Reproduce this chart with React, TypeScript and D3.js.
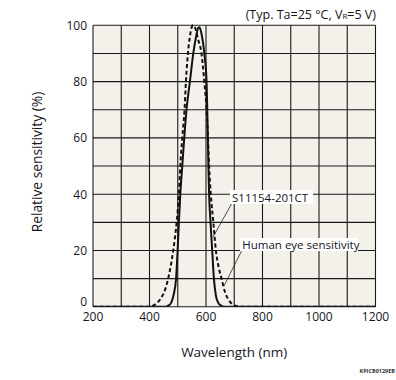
import React from "react";
import * as d3 from "d3";

const xTicks = [200, 400, 600, 800, 1000, 1200];
const yTicks = [0, 20, 40, 60, 80, 100];
const xGrid = [200, 300, 400, 500, 600, 700, 800, 900, 1000, 1100, 1200];
const yGrid = [0, 10, 20, 30, 40, 50, 60, 70, 80, 90, 100];

const sensorWl = [200, 455, 468, 477, 486, 494, 499.5, 504, 509, 516, 523, 531, 543, 555, 565, 572, 577, 584, 594, 602, 604.5, 606.5, 608.5, 611, 616, 622, 628, 635, 643, 652, 665, 1200];
const sensorVal = [0, 0, 0.5, 1.5, 4.5, 10, 20, 30, 40, 50, 60, 70, 80, 90, 96, 99, 99.3, 97, 90, 80, 70, 60, 50, 40, 30, 20, 10, 4, 1.5, 0.5, 0, 0];

const eyeWl = [200, 395, 410, 425, 440, 455, 466, 476, 484, 496, 504, 509, 516, 524, 529, 536, 543, 550, 555, 562, 572, 584, 594, 602, 607, 611, 617, 626, 635, 645, 655, 668, 680, 695, 710, 725, 1200];
const eyeVal = [0, 0, 0.3, 1.2, 3, 6, 10, 15, 20, 30, 40, 50, 60, 70, 80, 90, 96, 99.5, 100, 99, 95, 90, 80, 70, 60, 50, 40, 30, 20, 14, 10, 5, 2.5, 0.8, 0.2, 0, 0];

const FONT = "'Open Sans', 'Noto Sans', sans-serif";
const TXT = "#15151c";

export default function App() {
  const W = 396, H = 380;
  const L = 93, R = 375.5, T = 25.3, B = 306.8;
  const x = d3.scaleLinear().domain([200, 1200]).range([L, R]);
  const y = d3.scaleLinear().domain([0, 100]).range([B, T]);
  const line = d3.line<number>().curve(d3.curveMonotoneX);
  const sensorPath = line(sensorWl.map((w, i) => [x(w), y(sensorVal[i])]) as any) || "";
  const eyePath = line(eyeWl.map((w, i) => [x(w), y(eyeVal[i])]) as any) || "";

  return (
    <svg width={W} height={H} style={{ position: "absolute", left: 0, top: 0, background: "#fff" }}>
      <defs>
        <clipPath id="plot">
          <rect x={L} y={T - 3} width={R - L} height={B - T + 3} />
        </clipPath>
      </defs>
      <rect x={L} y={T} width={R - L} height={B - T} fill="#f3f1ea" />
      {xGrid.map((g) => (
        <line key={"xg" + g} x1={x(g)} x2={x(g)} y1={T} y2={B} stroke="#1a1a1a" strokeWidth={1.1} />
      ))}
      {yGrid.map((g) => (
        <line key={"yg" + g} x1={L} x2={R} y1={y(g)} y2={y(g)} stroke="#1a1a1a" strokeWidth={1.1} />
      ))}
      <g clipPath="url(#plot)">
        <path d={eyePath} fill="none" stroke="#111" strokeWidth={2} strokeDasharray="4,2.6" />
        <path d={sensorPath} fill="none" stroke="#111" strokeWidth={2} />
      </g>

      {yTicks.map((t) => (
        <text key={"yt" + t} x={87} y={y(t) + (t === 0 ? -0.5 : 4.3)} textAnchor="end" fontFamily={FONT} fontSize={12} fill={TXT}>
          {t}
        </text>
      ))}
      {xTicks.map((t) => (
        <text key={"xt" + t} x={x(t)} y={321} textAnchor="middle" fontFamily={FONT} fontSize={12} fill={TXT}>
          {t}
        </text>
      ))}

      <text x={(L + R) / 2} y={357} textAnchor="middle" fontFamily={FONT} fontSize={13.5} fill={TXT}>
        Wavelength (nm)
      </text>
      <text transform={`translate(42,${(T + B) / 2 - 4}) rotate(-90)`} textAnchor="middle" fontFamily={FONT} fontSize={13.8} fill={TXT}>
        Relative sensitivity (%)
      </text>

      <text x={376} y={19} textAnchor="end" fontFamily={FONT} fontSize={12.5} fill={TXT}>
        (Typ. Ta=25 °C, V<tspan fontSize={8}>R</tspan>=5 V)
      </text>

      <line x1={232} y1={203} x2={213} y2={237} stroke="#222" strokeWidth={0.8} />
      <rect x={230} y={190} width={83} height={14} fill="#fff" />
      <text x={232} y={201.5} fontFamily={FONT} fontSize={11.5} fill={TXT}>
        S11154-201CT
      </text>

      <line x1={242} y1={250} x2={224} y2={286} stroke="#222" strokeWidth={0.8} />
      <rect x={240} y={238} width={118} height={13} fill="#fff" />
      <text x={242.3} y={248.5} fontFamily={FONT} fontSize={11.5} fill={TXT}>
        Human eye sensitivity
      </text>

      <text x={395} y={373} textAnchor="end" fontFamily={FONT} fontSize={5.5} fontWeight="bold" fill="#333">
        KPICB0129EB
      </text>
    </svg>
  );
}
